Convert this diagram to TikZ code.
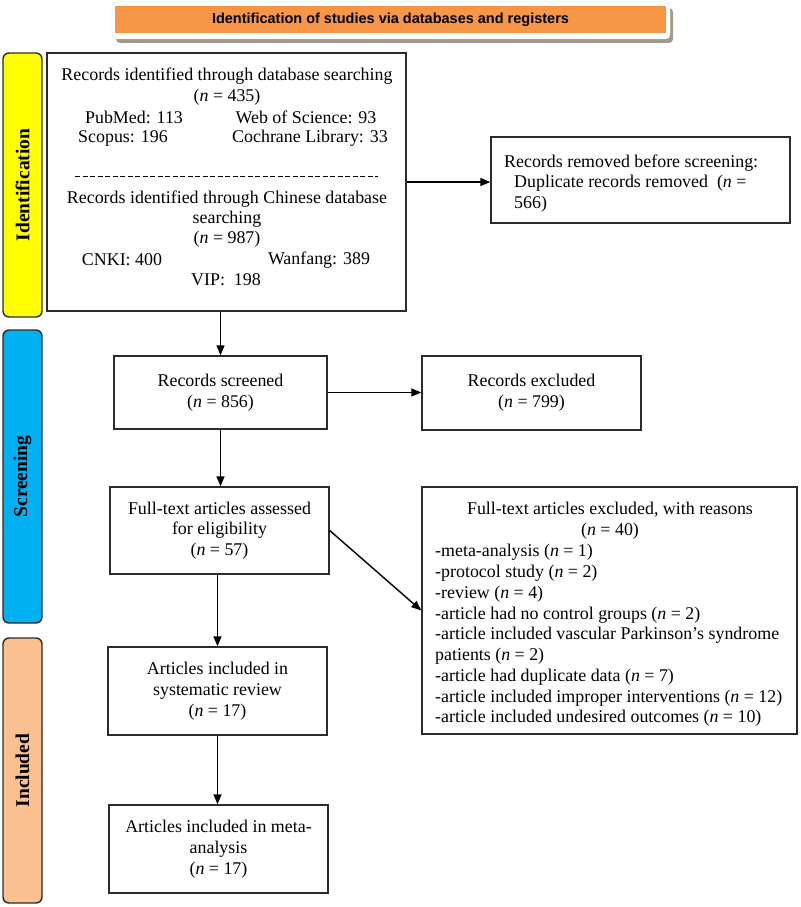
\documentclass[tikz,border=0pt]{standalone}
\usepackage{fontspec}
\setmainfont{Liberation Serif}
\newfontfamily\titlesans{Liberation Sans}
\usetikzlibrary{arrows.meta,calc}
\definecolor{bannerorange}{HTML}{F79646}
\definecolor{shadowgray}{HTML}{A39A8C}
\definecolor{phaseyellow}{HTML}{FFFF00}
\definecolor{phaseblue}{HTML}{00B0F0}
\definecolor{phasepeach}{HTML}{FAC090}
\definecolor{edge}{HTML}{2B2B2B}
\begin{document}
\begin{tikzpicture}[x=1pt,y=-1pt,
  every node/.style={font=\fontsize{17.9}{20.7}\selectfont, inner sep=0pt},
  box/.style={draw=edge, line width=1.4pt, fill=white},
  phase/.style={draw=edge, line width=1.4pt, rounded corners=6pt},
  phasetext/.style={rotate=90, font=\fontsize{19.5}{21}\selectfont\bfseries},
  txt/.style={align=center},
  ltxt/.style={anchor=west, align=left},
  arr/.style={draw=black, line width=1.4pt, -{Triangle[length=10pt,width=8pt]}}]
\useasboundingbox (0,0) rectangle (800,907);
% banner
\fill[shadowgray, rounded corners=4pt] (116,8) rectangle (673,43);
\filldraw[fill=white, draw=black!15, rounded corners=4pt] (112,2) rectangle (670,39);
\node[fill=bannerorange, minimum width=551pt, minimum height=27pt, font=\fontsize{14.5}{16}\selectfont\bfseries\titlesans] (banner) at (390.5,19.5) {Identification of studies via databases and registers};
% phase labels
\node[phase, fill=phaseyellow, minimum width=39pt, minimum height=264pt] (pid) at (22.5,185) {};
\node[phasetext] (pidt) at (pid.center) {Identification};
\node[phase, fill=phaseblue, minimum width=39pt, minimum height=293pt] (pscr) at (22.5,476.5) {};
\node[phasetext] (pscrt) at (pscr.center) {Screening};
\node[phase, fill=phasepeach, minimum width=39pt, minimum height=265pt] (pinc) at (22.5,770.5) {};
\node[phasetext] (pinct) at (pinc.center) {Included};
% box 1
\node[box, minimum width=359pt, minimum height=258pt] (box1) at (226.5,182) {};
\node[txt] (b1a) at (227,76) {Records identified through database searching};
\node[txt] (b1b) at (227,97) {(\textit{n} = 435)};
\node[txt] (b1c) at (134,117) {PubMed: 113};
\node[txt] (b1d) at (306,117) {Web of Science: 93};
\node[txt] (b1e) at (123,138) {Scopus: 196};
\node[txt] (b1f) at (310,138) {Cochrane Library: 33};
\coordinate (dl) at (75,176);
\coordinate (dr) at (378,176);
\draw[line width=1pt, dash pattern=on 5pt off 2.5pt] (dl) -- (dr);
\node[txt] (b1g) at (227,199) {Records identified through Chinese database};
\node[txt] (b1h) at (227,219) {searching};
\node[txt] (b1i) at (227,239) {(\textit{n} = 987)};
\node[txt] (b1j) at (122,260) {CNKI: 400};
\node[txt] (b1k) at (319,260) {Wanfang: 389};
\node[txt] (b1l) at (226,280) {VIP:\ \ 198};
% removed
\node[box, minimum width=299pt, minimum height=86pt] (removed) at (640.5,180) {};
\node[ltxt] (r1) at (504,163) {Records removed before screening:};
\node[ltxt] (r2) at (514,183) {Duplicate records removed\ \ (\textit{n} =};
\node[ltxt] (r3) at (514,204) {566)};
% screened
\node[box, minimum width=213pt, minimum height=73pt, txt] (screened) at (220.5,392.5) {Records screened\\(\textit{n} = 856)};
\node[box, minimum width=219pt, minimum height=74pt, txt] (excluded) at (531.5,393) {Records excluded\\(\textit{n} = 799)};
% full text
\node[box, minimum width=219pt, minimum height=87pt, txt] (fulltext) at (219.5,530.5) {Full-text articles assessed\\for eligibility\\(\textit{n} = 57)};
\node[box, minimum width=375pt, minimum height=247pt] (reasons) at (609.5,610.5) {};
\node[txt] (q1) at (610,510) {Full-text articles excluded, with reasons};
\node[txt] (q2) at (610,531) {(\textit{n} = 40)};
\node[ltxt] (q3) at (435,552) {-meta-analysis (\textit{n} = 1)};
\node[ltxt] (q4) at (435,573) {-protocol study (\textit{n} = 2)};
\node[ltxt] (q5) at (435,594) {-review (\textit{n} = 4)};
\node[ltxt] (q6) at (435,615) {-article had no control groups (\textit{n} = 2)};
\node[ltxt] (q7) at (435,635) {-article included vascular Parkinson’s syndrome};
\node[ltxt] (q8) at (435,656) {patients (\textit{n} = 2)};
\node[ltxt] (q9) at (435,677) {-article had duplicate data (\textit{n} = 7)};
\node[ltxt] (q10) at (435,698) {-article included improper interventions (\textit{n} = 12)};
\node[ltxt] (q11) at (435,718) {-article included undesired outcomes (\textit{n} = 10)};
% included
\node[box, minimum width=219pt, minimum height=88pt, txt] (sysrev) at (217.5,691) {Articles included in\\systematic review\\(\textit{n} = 17)};
\node[box, minimum width=219pt, minimum height=88pt, txt] (meta) at (218.5,849) {Articles included in meta-\\analysis\\(\textit{n} = 17)};
% arrows
\draw[arr] (box1.east) -- (box1.east -| removed.west);
\draw[arr] (box1.south -| screened.north) -- (screened.north);
\draw[arr] (screened.east) -- (screened.east -| excluded.west);
\draw[arr] (screened.south) -- (screened.south |- fulltext.north);
\draw[arr] (fulltext.east) -- (reasons.west);
\draw[arr] (fulltext.south -| sysrev.north) -- (sysrev.north);
\draw[arr] (sysrev.south) -- (sysrev.south |- meta.north);
\end{tikzpicture}
\end{document}
